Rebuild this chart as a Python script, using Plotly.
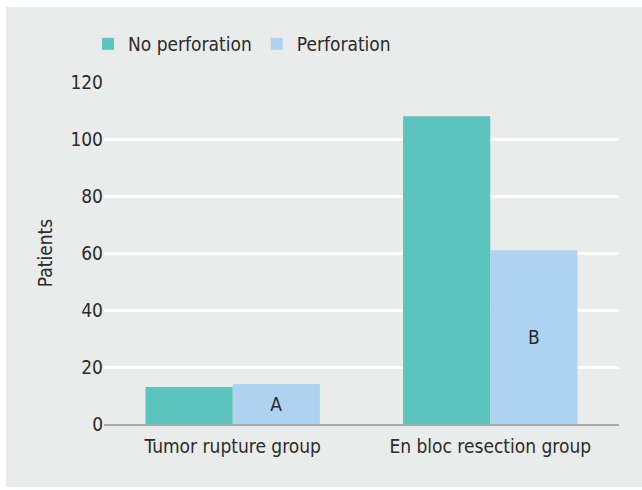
import plotly.graph_objects as go

categories = ["Tumor rupture group", "En bloc resection group"]
no_perforation = [13, 108]
perforation = [14, 61]
bar_labels = ["A", "B"]
y_ticks = [0, 20, 40, 60, 80, 100, 120]

FONT = "Liberation Sans Narrow, DejaVu Sans Condensed, Arial Narrow, sans-serif"
TXT = "#2b2b2b"
BG = "#eaeceb"
FS = 19

fig = go.Figure()
fig.add_trace(go.Bar(name="No perforation", x=categories, y=no_perforation,
                     marker=dict(color="#5bc4be", line=dict(width=0))))
fig.add_trace(go.Bar(name="Perforation", x=categories, y=perforation,
                     marker=dict(color="#aed3f0", line=dict(width=0)),
                     text=bar_labels, textposition="inside", insidetextanchor="middle",
                     textfont=dict(family=FONT, size=FS, color=TXT),
                     hoverinfo="x+y"))

L, R, T, B = 104, 23, 82, 66
W, H = 642, 490
pw, ph = W - L - R, H - T - B

def px_x(p):
    return (p - L) / pw

def px_y(p):
    return (H - B - p) / ph

fig.add_shape(type="rect", xref="paper", yref="paper",
              x0=px_x(6), x1=px_x(642), y0=px_y(487), y1=px_y(7),
              fillcolor=BG, line=dict(width=0), layer="below")

fig.update_layout(
    width=W, height=H,
    margin=dict(l=L, r=R, t=T, b=B),
    paper_bgcolor="white",
    plot_bgcolor=BG,
    barmode="group", bargap=0.323, bargroupgap=0,
    font=dict(family=FONT, size=FS, color=TXT),
    showlegend=True,
    legend=dict(orientation="h", x=px_x(88), xanchor="left", y=px_y(44), yanchor="middle",
                font=dict(family=FONT, size=FS, color=TXT), bgcolor="rgba(0,0,0,0)",
                itemwidth=30, tracegroupgap=0),
    xaxis=dict(showgrid=False, showline=True, linecolor="#a6a8ab", linewidth=2,
               ticks="", ticklabelstandoff=4, tickfont=dict(family=FONT, size=FS, color=TXT)),
    yaxis=dict(range=[0, 120], tickvals=y_ticks, showgrid=True, gridcolor="white", gridwidth=2.5,
               zeroline=False, showline=False, ticks="",
               tickfont=dict(family=FONT, size=FS, color=TXT),
               title=dict(text="Patients", standoff=12, font=dict(family=FONT, size=FS, color=TXT))),
)

fig.write_html("out.html", config={"displayModeBar": False},
               post_script="document.body.style.margin='0px';")
